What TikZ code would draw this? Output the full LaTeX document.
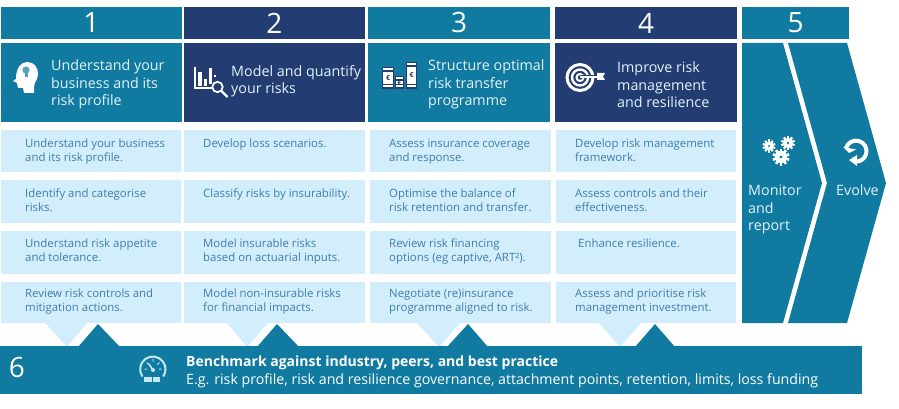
\documentclass[tikz,border=0pt]{standalone}
\usepackage{fontspec}
\setmainfont{Open Sans}
\definecolor{teal}{HTML}{117AA0}
\definecolor{navy}{HTML}{233C72}
\definecolor{lite}{HTML}{D2EEFC}
\definecolor{ink}{HTML}{3F7CAB}
\definecolor{head}{HTML}{E4F3FA}
\definecolor{gauge}{HTML}{C5E8F2}
\tikzset{
 x=1pt,y=-1pt,
 numbox/.style={anchor=north west,inner sep=0,outer sep=0,text=white,font=\fontsize{28}{28}\selectfont,align=center},
 titlebox/.style={anchor=north west,inner sep=0,outer sep=0,minimum height=79pt},
 titletext/.style={anchor=west,inner sep=0,text=head,align=left,font=\fontsize{14.3}{17.5}\selectfont},
 itembox/.style={anchor=north west,inner sep=0,outer sep=0,fill=lite},
 itemtext/.style={anchor=north west,inner sep=0,text=ink,align=left,font=\fontsize{11.4}{14}\selectfont},
}
\newcommand{\numb}[6]{% name x y w fill text
 \node[numbox,fill=#5,minimum width=#4pt,minimum height=32pt] (#1) at (#2,#3) {#6};}
\newcommand{\itm}[8]{% name x y w h textx texty text
 \node[itembox,minimum width=#4pt,minimum height=#5pt] (#1) at (#2,#3) {};
 \node[itemtext] (#1t) at (#6,#7) {#8};}
\newcommand{\gear}[3]{% x y r
 \fill[white] (#1,#2) circle (#3*0.72);
 \foreach \a in {0,36,...,324}{\fill[white,shift={(#1,#2)},rotate=\a] (-#3*0.16,0) rectangle (#3*0.16,-#3);}
 }
\begin{document}
\begin{tikzpicture}
\useasboundingbox (0,0) rectangle (899,409);
% numbers
\numb{n1}{1}{7}{181}{teal}{1}
\numb{n2}{184}{7}{181}{navy}{2}
\numb{n3}{368}{7}{182}{teal}{3}
\numb{n4}{555}{7}{182}{navy}{4}
\numb{n5}{742}{7}{107}{teal}{5}
% title boxes
\node[titlebox,fill=teal,minimum width=181pt] (t1) at (1,43) {};
\node[titlebox,fill=navy,minimum width=181pt] (t2) at (184,43) {};
\node[titlebox,fill=teal,minimum width=182pt] (t3) at (368,43) {};
\node[titlebox,fill=navy,minimum width=182pt] (t4) at (555,43) {};
\node[titletext] (tt1) at (51,84.7) {Understand your\\business and its\\risk profile};
\node[titletext] (tt2) at (231,81.3) {Model and quantify\\your risks};
\node[titletext] (tt3) at (428,84.7) {Structure optimal\\risk transfer\\programme};
\node[titletext] (tt4) at (617,84.7) {Improve risk\\management\\and resilience};
% bottom bar and triangles
\fill[lite] (45,323) -- (87,323) -- (67,347) -- cycle;
\fill[lite] (227,323) -- (268,323) -- (247,347) -- cycle;
\fill[lite] (417,323) -- (460,323) -- (439,347) -- cycle;
\fill[lite] (599,323) -- (641,323) -- (620,347) -- cycle;
\fill[teal] (78,347) -- (98,324) -- (120,347) -- cycle;
\fill[teal] (257,347) -- (277,324) -- (299,347) -- cycle;
\fill[teal] (447,347) -- (468,324) -- (488,347) -- cycle;
\fill[teal] (635,347) -- (655,324) -- (675,347) -- cycle;
\node[anchor=north west,inner sep=0,outer sep=0,fill=teal,minimum width=862pt,minimum height=48pt] (bar) at (0,346) {};
\node[anchor=center,inner sep=0,text=white,font=\fontsize{28}{28}\selectfont] (six) at (17,367) {6};
\node[anchor=north west,inner sep=0,text=white,align=left,font=\fontsize{14.2}{18}\selectfont] (bt) at (186,356) {{\bfseries\fontsize{14}{18}\selectfont Benchmark against industry, peers, and best practice}\\E.g. risk profile, risk and resilience governance, attachment points, retention, limits, loss funding};
% items
\itm{a1}{1}{130}{180}{42}{25}{139}{Understand your business\\and its risk profile.}
\itm{a2}{1}{180}{180}{43}{25}{189}{Identify and categorise\\risks.}
\itm{a3}{1}{231}{180}{43}{25}{239}{Understand risk appetite\\and tolerance.}
\itm{a4}{1}{282}{180}{41}{25}{289}{Review risk controls and\\mitigation actions.}
\itm{b1}{184}{130}{181}{42}{203}{139}{Develop loss scenarios.}
\itm{b2}{184}{180}{181}{43}{203}{189}{Classify risks by insurability.}
\itm{b3}{184}{231}{181}{43}{203}{239}{Model insurable risks\\based on actuarial inputs.}
\itm{b4}{184}{282}{181}{41}{203}{289}{Model non-insurable risks\\for financial impacts.}
\itm{c1}{370}{130}{181}{42}{389}{139}{Assess insurance coverage\\and response.}
\itm{c2}{370}{180}{181}{43}{389}{189}{Optimise the balance of\\risk retention and transfer.}
\itm{c3}{370}{231}{181}{43}{389}{239}{Review risk financing\\options (eg captive, ART²).}
\itm{c4}{370}{282}{181}{41}{389}{289}{Negotiate (re)insurance\\programme aligned to risk.}
\itm{d1}{556}{130}{180}{42}{575}{139}{Develop risk management\\framework.}
\itm{d2}{556}{180}{180}{43}{575}{189}{Assess controls and their\\effectiveness.}
\itm{d3}{556}{231}{180}{43}{578}{239}{Enhance resilience.}
\itm{d4}{556}{282}{180}{41}{575}{289}{Assess and prioritise risk\\management investment.}
% chevrons
\fill[teal] (742,43) -- (783,43) -- (822,183) -- (783,323) -- (742,323) -- cycle;
\fill[teal] (788,43) -- (847,43) -- (886,183) -- (847,323) -- (788,323) -- (827,183) -- cycle;
\node[titletext,anchor=north west] (m5) at (748,185) {Monitor\\and\\report};
\node[titletext,anchor=north west] (e5) at (836,184.5) {Evolve};
% icon 1: head with bulb
\fill[white] (16,79) .. controls (16,68) and (21,62) .. (27,62) .. controls (34,62) and (38,67) .. (38,74) .. controls (38,80) and (34,82) .. (34,87) -- (34,93) -- (24,93) -- (23,88) -- (18,88) -- (17,83) -- (13,81) -- cycle;
\fill[teal!70!white] (26,70) circle (3.6);
\fill[teal!70!white] (24.5,73) rectangle (27.5,77);
% icon 2: chart with magnifier
\draw[white,line width=1.2pt] (195,67) -- (195,88) -- (212,88);
\fill[white] (198,72) rectangle (201.5,86);
\fill[white] (204,79) rectangle (207,86);
\fill[white] (209,68) rectangle (212,84);
\fill[white] (214,75) rectangle (216,77.5);
\draw[white,line width=1.8pt] (217.5,87) circle (5.2);
\draw[white,line width=2.4pt] (221.5,91) -- (227.5,97);
% icon 3: coin stacks
\foreach \x/\yt/\xe in {382/67/394,395/76/404,406/62/417}{
 \fill[navy] (\x,\yt) rectangle (\xe,89);
 \fill[white] (\x+1,\yt+1.5) rectangle (\xe-1,\yt+3.5);
 \fill[white] (\x+1,\yt+5) rectangle (\xe-1,84);
 \fill[white] (\x+1,85.5) rectangle (\xe-1,87.5);
}
\node[text=navy,inner sep=0,font=\bfseries\fontsize{7}{7}\selectfont] (e1) at (388,78.5) {€};
\node[text=navy,inner sep=0,font=\bfseries\fontsize{7}{7}\selectfont] (e2) at (399.5,83) {€};
\node[text=navy,inner sep=0,font=\bfseries\fontsize{7}{7}\selectfont] (e3) at (411.5,75) {€};
% icon 4: target
\draw[white,line width=3pt] (580,77.5) circle (13);
\draw[white,line width=2.4pt] (580,77.5) circle (8);
\draw[white,line width=2pt] (580,77.5) circle (3.5);
\draw[navy,line width=3.6pt] (581,76.5) -- (596,76.5);
\draw[white,line width=1.6pt] (580,77) -- (600,77);
\fill[white] (597,73) -- (605,73) -- (603,76.5) -- (605,80) -- (597,80) -- cycle;
% icon 5: gears
\gear{769}{146}{6.5}
\gear{788}{143}{7}
\gear{781}{157}{8.5}
\fill[teal] (769,146) circle (1.2);
\fill[teal] (788,143) circle (1.4);
\fill[teal] (781,157) circle (1.6);
% icon 6: refresh
\draw[white,line width=4pt] (845.9,148.4) arc (-165:90:10.5);
\fill[white] (843,147) -- (856,149.5) -- (849,153) -- cycle;
\fill[white] (849,160) -- (857,155) -- (857,166) -- cycle;
% icon 7: gauge
\draw[gauge,line width=2pt] (142.4,376.5) arc (-215:35:12.7);
\draw[gauge,line width=1pt] (144.5,369) -- (147,369) (153,359) -- (153,361.5) (161.5,369) -- (159,369) (146.5,362.5) -- (148.5,364.5) (159.5,362.5) -- (157.5,364.5);
\fill[gauge] (144,377) rectangle (151.5,382);
\fill[gauge] (152.5,377) rectangle (160,382);
\draw[gauge,line width=1.6pt] (148.5,363.5) -- (153,370);
\fill[gauge] (153,370) circle (2);
\end{tikzpicture}
\end{document}
